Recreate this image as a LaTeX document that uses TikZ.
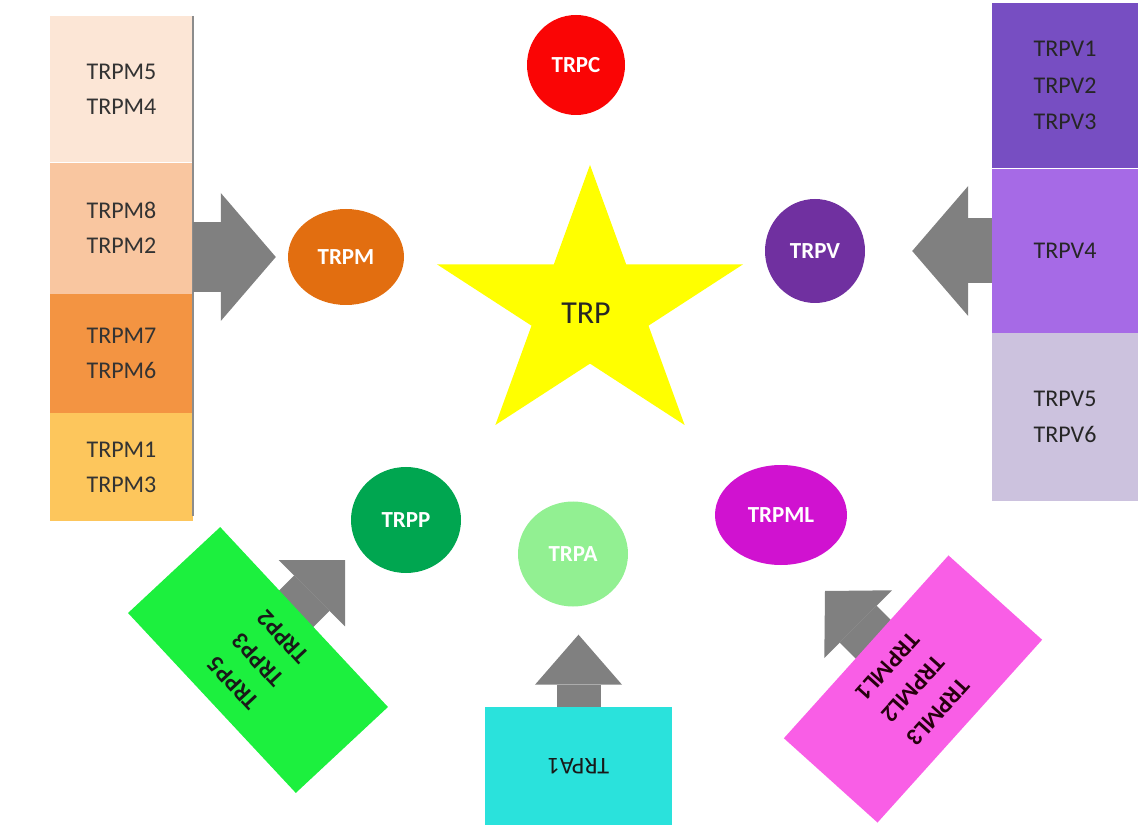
\documentclass[tikz,border=0pt]{standalone}
\usepackage{fontspec}
\setmainfont{Carlito}
\usetikzlibrary{shapes.geometric,arrows.meta,positioning,calc}

\definecolor{mpeach}{RGB}{252,230,214}
\definecolor{mtan}{RGB}{249,198,160}
\definecolor{morange}{RGB}{243,148,66}
\definecolor{myellow}{RGB}{253,198,92}
\definecolor{vdark}{RGB}{119,78,194}
\definecolor{vmid}{RGB}{166,106,230}
\definecolor{vpale}{RGB}{204,194,222}
\definecolor{trpcred}{RGB}{250,5,5}
\definecolor{trpmorange}{RGB}{226,110,16}
\definecolor{trpvpurple}{RGB}{112,48,160}
\definecolor{trppgreen}{RGB}{0,166,80}
\definecolor{trpagreen}{RGB}{146,240,146}
\definecolor{trpmlpink}{RGB}{208,18,208}
\definecolor{staryellow}{RGB}{255,255,0}
\definecolor{arrowgray}{RGB}{128,128,128}
\definecolor{pbox}{RGB}{28,240,62}
\definecolor{mlbox}{RGB}{249,94,230}
\definecolor{abox}{RGB}{42,226,220}

\begin{document}
\begin{tikzpicture}[x=1pt, y=1pt, font=\fontsize{24}{35}\selectfont,
  mbox/.style={minimum width=143pt, inner sep=0pt, align=center, text=black!80},
  vbox/.style={minimum width=146pt, inner sep=0pt, align=center, text=black!85,
    font=\fontsize{24}{36.5}\selectfont},
  chan/.style={ellipse, inner sep=0pt, text=white, font=\fontsize{23}{28}\selectfont\bfseries},
  tiltbox/.style={minimum width=246pt, minimum height=126pt, inner sep=0pt, align=center,
    text=black!90, font=\fontsize{24}{34}\selectfont\bfseries},
  fatarrow/.style n args={3}{draw=arrowgray, line width=#1,
    -{Triangle[length=#2, width=#3, line width=0pt]}}
]
\useasboundingbox (0,0) rectangle (1138,831);

% TRPM column
\node[mbox, fill=mpeach, minimum height=146pt, anchor=north] (m54) at (121.5,815) {TRPM5\\TRPM4};
\node[mbox, fill=mtan, minimum height=131pt, below=0pt of m54] (m82) {TRPM8\\TRPM2};
\node[mbox, fill=morange, minimum height=119pt, below=0pt of m82] (m76) {TRPM7\\TRPM6};
\node[mbox, fill=myellow, minimum height=108pt, below=0pt of m76] (m13) {TRPM1\\TRPM3};
\draw[black!45, line width=2pt] (m54.north east) -- ([yshift=6pt]m13.south east);

% TRPV column
\node[vbox, fill=vdark, minimum height=165pt, anchor=north] (v123) at (1065,828) {TRPV1\\TRPV2\\TRPV3};
\node[vbox, fill=vmid, minimum height=164pt, below=0pt of v123] (v4) {TRPV4};
\node[vbox, fill=vpale, minimum height=168pt, below=0pt of v4] (v56) {TRPV5\\TRPV6};

% star
\fill[staryellow, shift={(590,522.3)}, yscale=0.893]
  (90:161) -- (126:61.5) -- (162:161) -- (198:61.5) -- (234:161) -- (270:61.5)
  -- (306:161) -- (342:61.5) -- (18:161) -- (54:61.5) -- cycle;
\node[font=\fontsize{32}{36}\selectfont, text=black!85] (trp) at (586,518) {TRP};

% subfamilies
\node[chan, fill=trpcred, minimum width=98pt, minimum height=100pt] (trpc) at (576,766) {TRPC};
\node[chan, fill=trpmorange, minimum width=116pt, minimum height=96pt] (trpm) at (346,574) {TRPM};
\node[chan, fill=trpvpurple, minimum width=100pt, minimum height=104pt] (trpv) at (815,580) {TRPV};
\node[chan, fill=trppgreen, minimum width=110pt, minimum height=106pt] (trpp) at (406,311) {TRPP};
\node[chan, fill=trpagreen, minimum width=110pt, minimum height=105pt] (trpa) at (573,277) {TRPA};
\node[chan, fill=trpmlpink, minimum width=132pt, minimum height=100pt] (trpml) at (781,316) {TRPML};

% block arrows
\draw[fatarrow={70pt}{55pt}{128pt}, shorten >=12pt] (m82.east |- trpm.west) -- (trpm.west);
\draw[fatarrow={65pt}{56pt}{130pt}, shorten >=47pt] (v4.west |- trpv.east) -- (trpv.east);

\node[tiltbox, fill=abox, rotate=180, minimum width=187pt, minimum height=118pt,
  font=\fontsize{24}{34}\selectfont] (a1) at (578.5,65) {TRPA1};
\draw[fatarrow={44pt}{50pt}{87pt}, shorten >=28pt] (a1.south) -- (a1.south |- trpa.south);

\coordinate (ptip) at (345,271);
\draw[fatarrow={50pt}{47pt}{94pt}] ($(ptip)+(225:110)$) -- (ptip);
\node[tiltbox, fill=pbox, rotate=133] (p235) at (258,171) {TRPP5\\TRPP3\\TRPP2};

\coordinate (mltip) at (825,240);
\draw[fatarrow={52pt}{47pt}{96pt}] ($(mltip)+(-45:105)$) -- (mltip);
\node[tiltbox, fill=mlbox, rotate=228, text=black!80!purple] (ml123) at (913,142) {TRPML3\\TRPML2\\TRPML1};
\end{tikzpicture}
\end{document}
